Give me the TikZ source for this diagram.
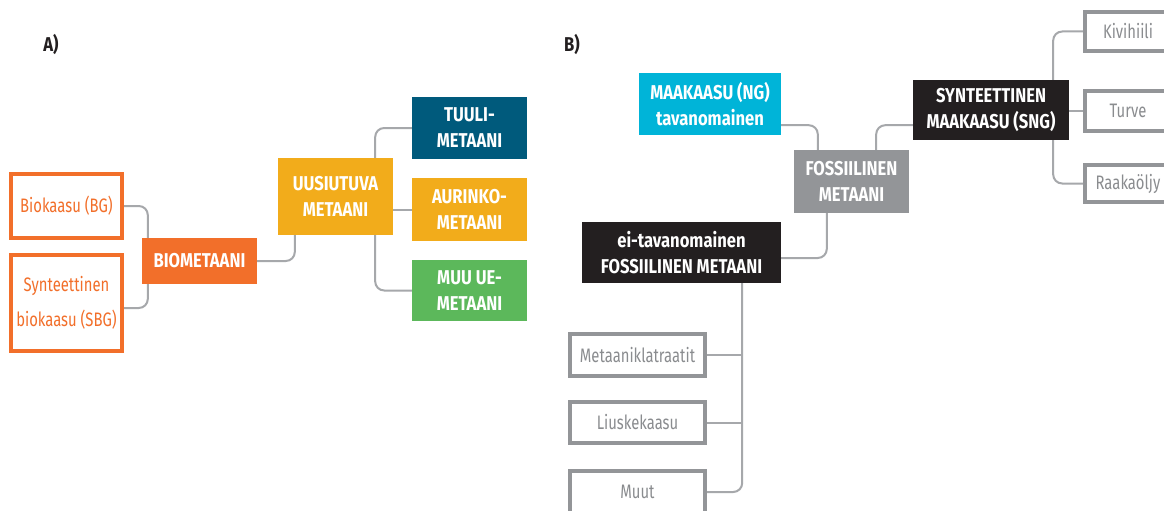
\documentclass[tikz,border=0pt]{standalone}
\usepackage{fontspec}
\setmainfont{Fira Sans}[FakeStretch=0.76, BoldFeatures={FakeStretch=0.83}]
\usetikzlibrary{calc}
\definecolor{bioorange}{HTML}{F26F2A}
\definecolor{renewyellow}{HTML}{F2AC1B}
\definecolor{windblue}{HTML}{005A7C}
\definecolor{othergreen}{HTML}{5CB85B}
\definecolor{gascyan}{HTML}{00B4D8}
\definecolor{fossilgray}{HTML}{939598}
\definecolor{graytext}{HTML}{8A8C8F}
\definecolor{nearblack}{HTML}{231F20}
\definecolor{linkgray}{HTML}{A6A8AB}
\tikzset{
  fillbox/.style={inner sep=0pt, align=center, text=white,
    font=\bfseries\fontsize{20}{26}\selectfont},
  outbox/.style={draw, line width=3.6pt, inner sep=0pt, align=center, fill=white,
    font=\fontsize{19.5}{26}\selectfont},
  orangebox/.style={outbox, draw=bioorange, text=bioorange},
  graybox/.style={outbox, draw=fossilgray, text=graytext},
  link/.style={draw=linkgray, line width=2pt, rounded corners=9pt},
  panel/.style={font=\bfseries\fontsize{20}{24}\selectfont, inner sep=0pt, text=nearblack}
}
\begin{document}
\begin{tikzpicture}[x=1pt, y=-1pt]
\fill[white] (0,0) rectangle (1164,511);
\useasboundingbox (0,0) rectangle (1164,511);

% panel labels
\node[panel] (labA) at (51,45) {A)};
\node[panel] (labB) at (572,45) {B)};

% ---- A: renewable methane ----
\node[orangebox, minimum width=111.4pt, minimum height=64.4pt] (bg) at (66.5,206) {Biokaasu (BG)};
\node[orangebox, minimum width=111.4pt, minimum height=96.4pt,
      font=\fontsize{19.5}{35}\selectfont] (sbg) at (66.5,303) {Synteettinen\\biokaasu (SBG)};
\node[fillbox, fill=bioorange, minimum width=115pt, minimum height=46pt] (bio) at (199.5,261) {BIOMETAANI};
\node[fillbox, fill=renewyellow, minimum width=115pt, minimum height=77pt] (uus) at (335.5,196.5) {UUSIUTUVA\\METAANI};
\node[fillbox, fill=windblue, minimum width=115pt, minimum height=62pt] (tuuli) at (469.5,128) {TUULI-\\METAANI};
\node[fillbox, fill=renewyellow, minimum width=115pt, minimum height=63pt] (aur) at (469.5,209.5) {AURINKO-\\METAANI};
\node[fillbox, fill=othergreen, minimum width=115pt, minimum height=61pt] (muu) at (469.5,290.5) {MUU UE-\\METAANI};

\draw[link] (bg.east) -| ($(bio.north west)+(6,0)$);
\draw[link] ($(sbg.east)+(0,5)$) -| ($(bio.south west)+(6,0)$);
\draw[link] (bio.east) -| ($(uus.south west)+(17,0)$);
\draw[link] ($(uus.north east)+(-18,0)$) |- (tuuli.west);
\draw[link] (aur.west) -- (aur.west -| uus.east);
\draw[link] ($(uus.south east)+(-18,0)$) |- (muu.west);

% ---- B: fossil methane ----
\node[fillbox, fill=gascyan, minimum width=142pt, minimum height=62pt] (ng) at (710,104) {MAAKAASU (NG)\\tavanomainen};
\node[fillbox, fill=fossilgray, minimum width=115pt, minimum height=63pt] (fos) at (851.5,181.5) {FOSSIILINEN\\METAANI};
\node[fillbox, fill=nearblack, minimum width=156pt, minimum height=60pt] (sng) at (991,110) {SYNTEETTINEN\\MAAKAASU (SNG)};
\node[fillbox, fill=nearblack, minimum width=199pt, minimum height=61pt] (ei) at (681.5,252.5) {ei-tavanomainen\\FOSSIILINEN METAANI};

\node[graybox, minimum width=86.4pt, minimum height=39.4pt] (kivi) at (1128,31.5) {Kivihiili};
\node[graybox, minimum width=86.4pt, minimum height=40.4pt] (turve) at (1128,111) {Turve};
\node[graybox, minimum width=86.4pt, minimum height=37.4pt] (raaka) at (1128,183.5) {Raakaöljy};

\node[graybox, minimum width=135.4pt, minimum height=42.4pt] (meta) at (637.5,355) {Metaaniklatraatit};
\node[graybox, minimum width=135.4pt, minimum height=41.4pt] (liusk) at (637.5,422.5) {Liuskekaasu};
\node[graybox, minimum width=135.4pt, minimum height=42.4pt] (muut) at (637.5,492) {Muut};

\draw[link] ($(ng.south east)+(0,-10)$) -| ($(fos.north west)+(24,0)$);
\draw[link] ($(fos.north east)+(-33,0)$) |- ($(sng.south west)+(0,-15)$);
\draw[link] ($(fos.south west)+(33,0)$) |- ($(ei.east)+(0,5.5)$);
\coordinate (trunk) at ($(ei.south east)+(-39,0)$);
\draw[link] (trunk) |- (muut.east);
\draw[link] (meta.east) -- (meta.east -| trunk);
\draw[link] (liusk.east) -- (liusk.east -| trunk);
\draw[link] ($(sng.north east)+(-16,0)$) |- (kivi.west);
\draw[link] (turve.west) -- (turve.west -| sng.east);
\draw[link] ($(sng.south east)+(-16,0)$) |- (raaka.west);
\end{tikzpicture}
\end{document}
